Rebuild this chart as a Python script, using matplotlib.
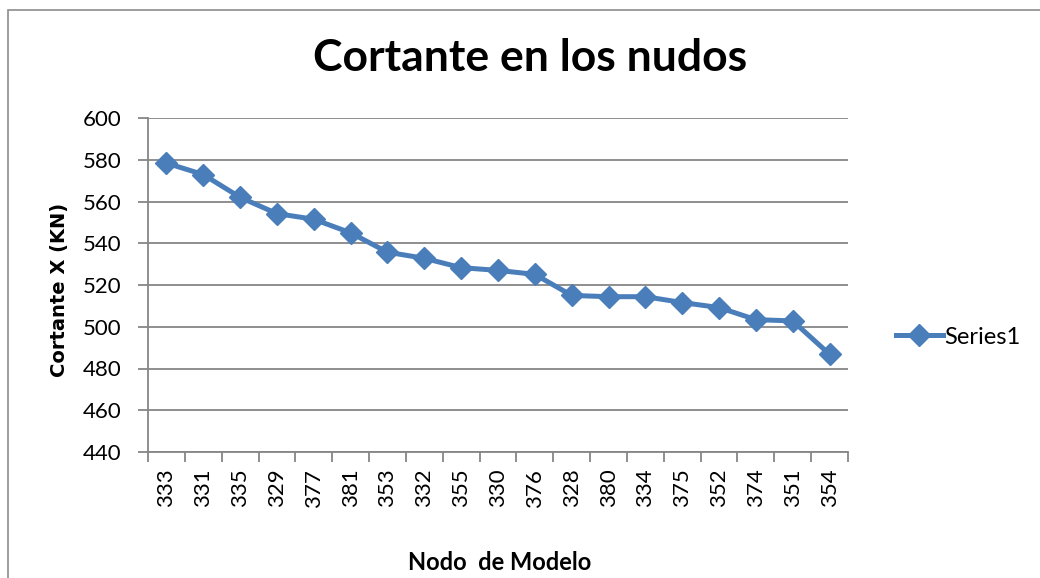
import matplotlib
matplotlib.use("Agg")
import matplotlib.pyplot as plt
from matplotlib.patches import Rectangle

# Datos
nodos = ['333', '331', '335', '329', '377', '381', '353', '332', '355', '330',
         '376', '328', '380', '334', '375', '352', '374', '351', '354']
cortante = [578.4, 572.9, 562.0, 554.2, 551.5, 545.0, 535.7, 532.8, 528.3, 527.0,
            525.1, 515.0, 514.4, 514.4, 511.6, 509.2, 503.4, 502.8, 486.8]
yticks = [440, 460, 480, 500, 520, 540, 560, 580, 600]

plt.rcParams['font.family'] = ['Lato', 'DejaVu Sans']

fig = plt.figure(figsize=(10.4, 5.78), dpi=100)
ax = fig.add_axes([148 / 1040, 1 - 452 / 578, 700 / 1040, 334 / 578])

# Marco exterior de la grafica
fig.patches.append(Rectangle((8 / 1040, -0.1), 1.2, (578 - 10) / 578 + 0.1,
                             transform=fig.transFigure, fill=False,
                             edgecolor='#8c8c8c', linewidth=1.2))

x = list(range(len(nodos)))
ax.plot(x, cortante, color='#4A7EBB', linewidth=3.6, marker='D',
        markersize=11, label='Series1')

ax.set_xlim(-0.5, len(nodos) - 0.5)
ax.set_ylim(440, 600)
ax.set_yticks(yticks)
ax.set_yticklabels([str(v) for v in yticks], fontsize=16)
ax.set_xticks(x)
ax.set_xticklabels(nodos, rotation=90, fontsize=16)
ax.set_xticks([i - 0.5 for i in range(len(nodos) + 1)], minor=True)
ax.tick_params(axis='x', which='major', length=0, pad=12)
ax.tick_params(axis='x', which='minor', length=7, color='#868686', width=1.3)
ax.tick_params(axis='y', length=7, color='#868686', width=1.3, pad=12)

ax.grid(axis='y', color='#868686', linewidth=1.3)
ax.set_axisbelow(True)
for s in ['top', 'right']:
    ax.spines[s].set_visible(False)
ax.spines['left'].set_color('#868686')
ax.spines['bottom'].set_color('#868686')
ax.spines['left'].set_linewidth(1.3)
ax.spines['bottom'].set_linewidth(1.3)

# Rotulos de x & y
ax.set_xlabel('Nodo  de Modelo', fontsize=17, fontweight='bold', va='center')
ax.xaxis.set_label_coords((500 - 148) / 700, (452 - 563) / 334)
ax.set_ylabel('Cortante X (KN)', fontsize=14, fontweight='bold',
              family='DejaVu Sans', va='center')
ax.yaxis.set_label_coords((60 - 148) / 700, (452 - 290) / 334)

fig.text(530 / 1040, 1 - 58 / 578, 'Cortante en los nudos', fontsize=32,
         fontweight='bold', ha='center', va='center')

fig.legend(loc='center left', bbox_to_anchor=(884 / 1040, 1 - 337 / 578),
           frameon=False, fontsize=17, handlelength=2.0, handletextpad=0.05,
           borderpad=0)

fig.savefig('out.png', dpi=100)
